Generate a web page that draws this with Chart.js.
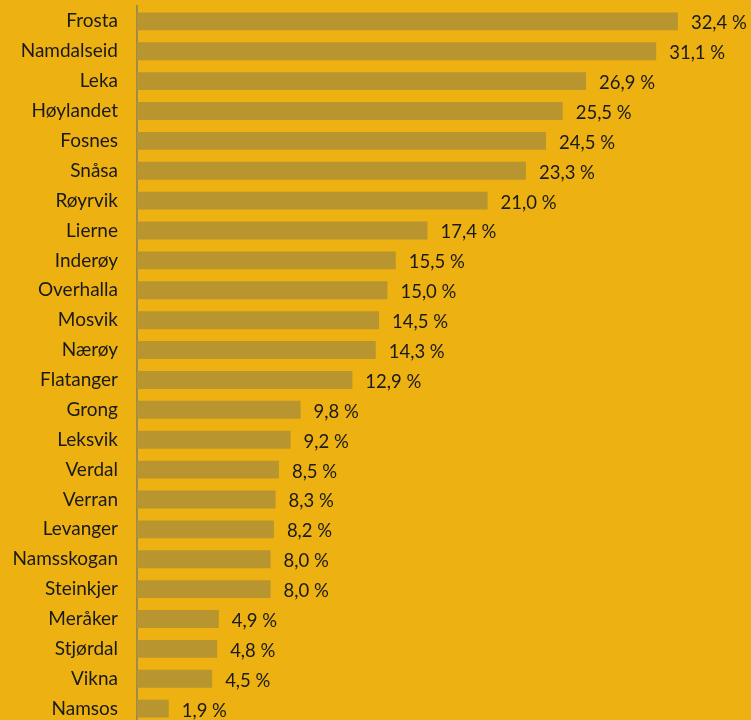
<!DOCTYPE html>
<html>
<head>
<meta charset="utf-8">
<script src="https://cdn.jsdelivr.net/npm/chart.js@4.4.1/dist/chart.umd.min.js"></script>
<style>
  html,body{margin:0;padding:0;background:#EDB112;overflow:hidden}
  #wrap{position:relative;width:751px;height:720px;overflow:hidden}
  #c{position:absolute;left:0;top:-8px}
</style>
</head>
<body>
<div id="wrap"><canvas id="c" width="751" height="746"></canvas></div>
<script>
// kommuner, sortert etter andel
const kommuner = ["Frosta", "Namdalseid", "Leka", "Høylandet", "Fosnes", "Snåsa", "Røyrvik", "Lierne",
  "Inderøy", "Overhalla", "Mosvik", "Nærøy", "Flatanger", "Grong", "Leksvik", "Verdal", "Verran",
  "Levanger", "Namsskogan", "Steinkjer", "Meråker", "Stjørdal", "Vikna", "Namsos"];
const andel = [32.4, 31.1, 26.9, 25.5, 24.5, 23.3, 21.0, 17.4,
  15.5, 15.0, 14.5, 14.3, 12.9, 9.8, 9.2, 8.5, 8.3,
  8.2, 8.0, 8.0, 4.9, 4.8, 4.5, 1.9];

const FONT = "Lato, 'Open Sans', sans-serif";
const fmt = v => v.toFixed(1).replace(".", ",") + " %";

// value labels to the right of each bar
const valueLabels = {
  id: "valueLabels",
  afterDatasetsDraw(chart) {
    const ctx = chart.ctx;
    const meta = chart.getDatasetMeta(0);
    ctx.save();
    ctx.font = "18.5px " + FONT;
    ctx.fillStyle = "#1a1a1a";
    ctx.textAlign = "left";
    ctx.textBaseline = "middle";
    meta.data.forEach((bar, i) => {
      ctx.fillText(fmt(andel[i]), bar.x + 13, bar.y + 2);
    });
    ctx.restore();
  },
};

new Chart(document.getElementById("c"), {
  type: "bar",
  data: {
    labels: kommuner,
    datasets: [{
      data: andel,
      backgroundColor: "#B8952F",
      categoryPercentage: 1,
      barPercentage: 0.6,
    }],
  },
  options: {
    indexAxis: "y",
    responsive: false,
    animation: false,
    layout: { padding: { top: 5, right: 13, bottom: 0, left: 0 } },
    plugins: { legend: { display: false }, tooltip: { enabled: false } },
    scales: {
      x: { display: false, min: 0, max: 36 },
      y: {
        afterFit(s) { s.width = 137; },
        grid: { display: true, drawOnChartArea: false, drawTicks: true, tickLength: 16, tickColor: "rgba(0,0,0,0)" },
        border: { display: true, color: "#9C8A4E", width: 2 },
        ticks: { color: "#1a1a1a", padding: 3, font: { family: FONT, size: 19 } },
      },
    },
  },
  plugins: [valueLabels],
});
</script>
</body>
</html>
